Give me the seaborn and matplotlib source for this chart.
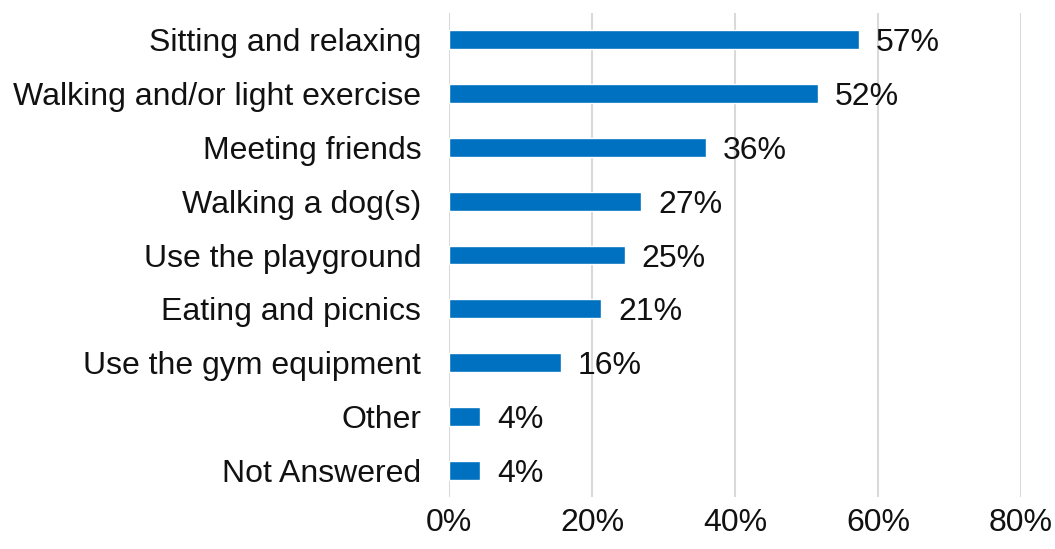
import pandas as pd
import seaborn as sns
import matplotlib.pyplot as plt
from matplotlib.ticker import PercentFormatter

# values (fractions)
activities = ['Sitting and relaxing', 'Walking and/or light exercise', 'Meeting friends',
              'Walking a dog(s)', 'Use the playground', 'Eating and picnics',
              'Use the gym equipment', 'Other', 'Not Answered']
shares = [0.574, 0.516, 0.359, 0.269, 0.246, 0.213, 0.157, 0.044, 0.044]
x_ticks = [0, 0.2, 0.4, 0.6, 0.8]

df = pd.DataFrame({'activity': activities, 'share': shares})

sns.set_style('white')
plt.rcParams['font.family'] = ['Liberation Sans', 'DejaVu Sans']

fig = plt.figure(figsize=(10.55, 5.49), dpi=100)
ax = fig.add_axes([0.4256, 0.0947, 0.5422, 0.8816])

sns.barplot(data=df, x='share', y='activity', orient='h', color='#0070C0',
            width=0.35, saturation=1, ax=ax)

texts = ax.bar_label(ax.containers[0], labels=[f'{v * 100:.0f}%' for v in shares],
                     padding=12, fontsize=23, color='#111111')
for t in texts:
    t.set_va('center_baseline')

ax.set_xlim(0, 0.8)
ax.set_xticks(x_ticks)
ax.xaxis.set_major_formatter(PercentFormatter(1.0, decimals=0))
ax.grid(axis='x', color='#d9d9d9', linewidth=1.5)
ax.set_axisbelow(True)
for s in ['top', 'right', 'bottom', 'left']:
    ax.spines[s].set_visible(False)
ax.tick_params(axis='x', length=0, pad=8, labelsize=23, labelcolor='#111111')
ax.tick_params(axis='y', length=0, pad=20, labelsize=23, labelcolor='#111111')
ax.set_xlabel('')
ax.set_ylabel('')

fig.savefig('out.png', dpi=100)
plt.close()
